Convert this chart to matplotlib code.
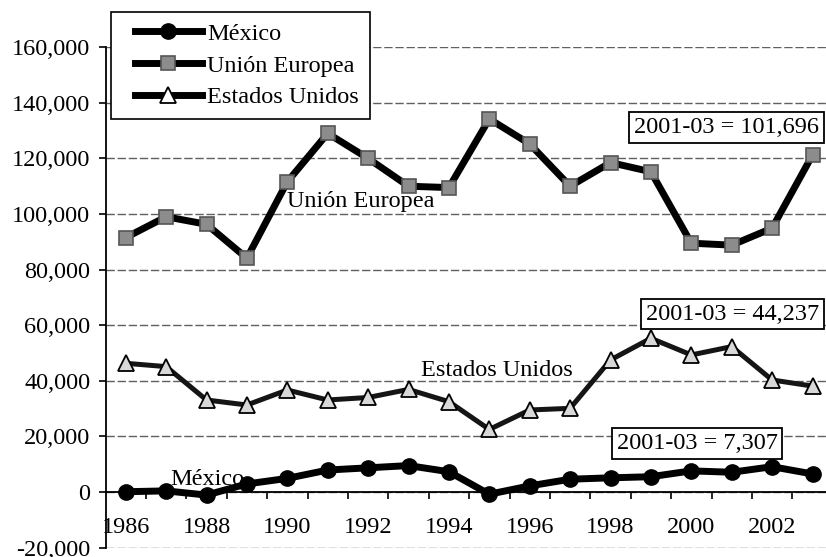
import matplotlib
matplotlib.use('Agg')
import matplotlib.pyplot as plt
from matplotlib.ticker import FuncFormatter, FixedLocator
from matplotlib.legend_handler import HandlerLine2D
from matplotlib.lines import Line2D

plt.rcParams['font.family'] = ['Liberation Serif', 'DejaVu Serif']

years = list(range(1986, 2004))
mexico = [100, 400, -1100, 2900, 4900, 7900, 8700, 9500, 7300, -800,
          2200, 4600, 5100, 5500, 7600, 7100, 9100, 6500]
union_europea = [91500, 99000, 96300, 84100, 111600, 129000, 120000, 110000, 109500,
                 134200, 125200, 110000, 118500, 115200, 89500, 88800, 94900, 121200]
estados_unidos = [46300, 45100, 33100, 31300, 36700, 33100, 34000, 36900, 32500,
                  22500, 29500, 30100, 47500, 55300, 49300, 52300, 40300, 38100]
series_labels = ['México', 'Unión Europea', 'Estados Unidos']
box_texts = ['2001-03 = 101,696', '2001-03 = 44,237', '2001-03 = 7,307']
yticks = list(range(-20000, 160001, 20000))
xtick_years = years[::2]

FS = 17.5
W, H = 826, 557
fig = plt.figure(figsize=(W / 100, H / 100), dpi=100)
ax = fig.add_axes([105.5 / W, (H - 547.6) / H, 727.2 / W, 500.4 / H])
ax.set_xlim(years[0] - 0.5, years[-1] + 0.5)
ax.set_ylim(-20000, 160000)

# grid
ax.set_yticks(yticks)
ax.yaxis.grid(True, color='#606060', lw=1.0, ls=(0, (6, 2)), zorder=0)
ax.set_axisbelow(True)
ax.yaxis.set_major_formatter(FuncFormatter(lambda v, p: f"{v:,.0f}"))
ax.tick_params(axis='y', direction='out', length=5, width=1.2, pad=6.0, labelsize=FS)

for s in ['top', 'right']:
    ax.spines[s].set_visible(False)
ax.spines['left'].set_linewidth(1.3)
ax.spines['bottom'].set_position(('data', 0))
ax.spines['bottom'].set_linewidth(1.3)
ax.spines['bottom'].set_zorder(1)

ax.set_xticks(xtick_years)
ax.set_xticklabels([str(y) for y in xtick_years])
ax.xaxis.set_minor_locator(FixedLocator([y + 0.5 for y in years[:-1]]))
ax.tick_params(axis='x', which='major', length=0, pad=18, labelsize=FS)
ax.tick_params(axis='x', which='minor', direction='out', length=5, width=1.2)

# series
l_ue, = ax.plot(years, union_europea, color='black', lw=5, marker='s', ms=9.5,
                mfc='#8c8c8c', mec='#555555', mew=1.2, zorder=3)
l_us, = ax.plot(years, estados_unidos, color='#151515', lw=3.6, marker='^', ms=11,
                mfc='#d8d8d8', mec='black', mew=1.3, zorder=3)
l_mx, = ax.plot(years, mexico, color='black', lw=5, marker='o', ms=11,
                mfc='black', mec='black', zorder=3)

# in-plot labels
ax.text(1990.0, 102500, 'Unión Europea', fontsize=FS, ha='left', va='baseline', zorder=4)
ax.text(1993.3, 41700, 'Estados Unidos', fontsize=FS, ha='left', va='baseline', zorder=4)
ax.text(1987.1, 2500, 'México', fontsize=FS, ha='left', va='baseline', zorder=2)

bbox = dict(boxstyle='square,pad=0.2', fc='white', ec='black', lw=1.3)
ax.text(1998.58, 131100, box_texts[0], fontsize=FS, ha='left', va='center', bbox=bbox, zorder=5)
ax.text(1998.88, 64000, box_texts[1], fontsize=FS, ha='left', va='center', bbox=bbox, zorder=5)
ax.text(1998.15, 17500, box_texts[2], fontsize=FS, ha='left', va='center', bbox=bbox, zorder=5)

# legend
h_mx = Line2D([], [], color='black', lw=5, marker='o', ms=11, mfc='black', mec='black')
h_ue = Line2D([], [], color='black', lw=5, marker='s', ms=9.5, mfc='#8c8c8c', mec='#555555', mew=1.2)
h_us = Line2D([], [], color='black', lw=5, marker='^', ms=11, mfc='white', mec='black', mew=1.3)
handler = HandlerLine2D(xpad=0.53)
leg = fig.legend([h_mx, h_ue, h_us], series_labels, loc='upper left',
                 bbox_to_anchor=(111 / W, 1 - 12 / H), bbox_transform=fig.transFigure,
                 borderaxespad=0, borderpad=0.45, handlelength=3.3, handletextpad=0.2,
                 labelspacing=0.4, fontsize=FS, frameon=True, fancybox=False,
                 framealpha=1, edgecolor='black', numpoints=1,
                 handler_map={h_mx: handler, h_ue: handler, h_us: handler})
leg.get_frame().set_linewidth(1.2)

fig.savefig('out.png', dpi=100)
